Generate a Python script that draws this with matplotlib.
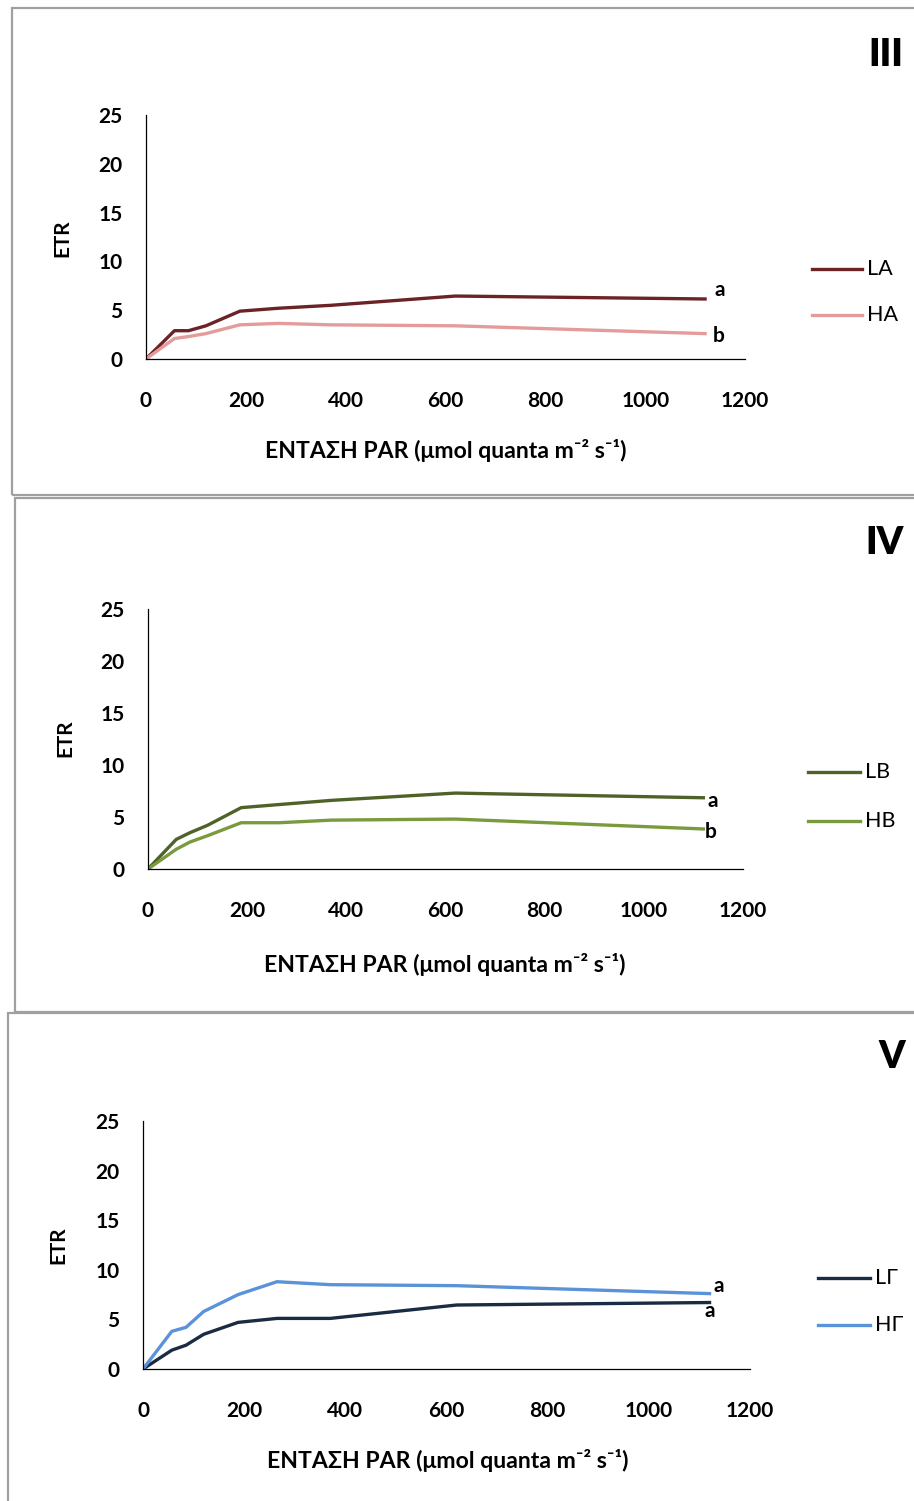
import matplotlib
matplotlib.use("Agg")
import matplotlib.pyplot as plt
from matplotlib.patches import Rectangle

# ---------------- data ----------------
par = [0, 57, 85, 120, 188, 265, 370, 620, 1120]

etr_LA = [0, 2.9, 2.9, 3.4, 4.9, 5.2, 5.5, 6.45, 6.15]
etr_HA = [0, 2.1, 2.3, 2.6, 3.5, 3.65, 3.5, 3.4, 2.6]

etr_LB = [0, 2.85, 3.5, 4.2, 5.9, 6.2, 6.6, 7.3, 6.85]
etr_HB = [0, 1.9, 2.6, 3.2, 4.45, 4.45, 4.7, 4.8, 3.85]

etr_LG = [0, 1.9, 2.4, 3.5, 4.7, 5.1, 5.1, 6.45, 6.7]
etr_HG = [0, 3.8, 4.2, 5.8, 7.5, 8.8, 8.5, 8.4, 7.6]

panel_titles = ["III", "IV", "V"]
series_names = [("LA", "HA"), ("LB", "HB"), ("LΓ", "HΓ")]
series_values = [(etr_LA, etr_HA), (etr_LB, etr_HB), (etr_LG, etr_HG)]
series_colors = [("#6b2326", "#e39c9b"), ("#4f6228", "#7a9a3e"), ("#1a2b44", "#5b93d9")]
sig_letters = [("a", "b"), ("a", "b"), ("a", "a")]

xticks = [0, 200, 400, 600, 800, 1000, 1200]
yticks = [0, 5, 10, 15, 20, 25]
xlabel = "ΕΝΤΑΣΗ PAR (μmol quanta m⁻² s⁻¹)"
ylabel = "ETR"

# ---------------- layout ----------------
W, H = 914, 1501
DPI = 100
fig = plt.figure(figsize=(W / DPI, H / DPI), dpi=DPI)
FONT = ["Lato", "Open Sans", "DejaVu Sans"]
plt.rcParams["font.family"] = FONT


def fx(px):
    return px / W


def fy(py):
    return 1 - py / H


# panel borders (left, top, bottom) in pixels
borders = [(12, 8, 495), (15, 498, 1012), (8, 1013, 1510)]
# axes boxes: left, right, top(y=25), bottom(y=0)
axes_px = [(146, 745, 115, 359), (148, 743, 609, 869), (143, 750, 1121, 1369)]
ylabel_pos = [(62, 238), (65, 738), (58, 1245)]
xlabel_pos = [(446, 451), (445, 965), (448, 1461)]
title_pos = [(886, 55), (885, 543), (892, 1057)]
legend_px = [(812, 862, 269, 315), (808, 860, 772, 821), (818, 870, 1278, 1325)]
# offsets (dx, dy-down) for the letters of (dark, light) series
letter_off = [((15, -9), (14, 2)), ((9, 3), (7, 3)), ((0, 8), (9, -8))]

for (bl, bt, bb) in borders:
    fig.patches.append(Rectangle((fx(bl), fy(bb)), fx(W + 20 - bl), fy(bt) - fy(bb),
                                 transform=fig.transFigure, fill=False,
                                 edgecolor="#a0a0a0", linewidth=1.6))

TICK_FS = 15
for i in range(3):
    l, r, t, b = axes_px[i]
    ax = fig.add_axes([fx(l), fy(b), fx(r - l), fy(t) - fy(b)])
    c1, c2 = series_colors[i]
    v1, v2 = series_values[i]
    n1, n2 = series_names[i]
    ax.plot(par, v1, color=c1, lw=2.4, solid_joinstyle="round")
    ax.plot(par, v2, color=c2, lw=2.4, solid_joinstyle="round")
    ax.set_xlim(0, 1200)
    ax.set_ylim(0, 25)
    ax.set_xticks(xticks)
    ax.set_yticks(yticks)
    ax.tick_params(length=0, labelsize=TICK_FS)
    ax.tick_params(axis="x", pad=23)
    ax.tick_params(axis="y", pad=17)
    for lab in ax.get_xticklabels() + ax.get_yticklabels():
        lab.set_fontweight("bold")
    for s in ["top", "right"]:
        ax.spines[s].set_visible(False)
    for s in ["left", "bottom"]:
        ax.spines[s].set_color("#000000")
        ax.spines[s].set_linewidth(0.9)
    ax.patch.set_alpha(0)

    # significance letters
    for vals, let, off in zip((v1, v2), sig_letters[i], letter_off[i]):
        ax.annotate(let, xy=(par[-1], vals[-1]), xytext=(off[0], -off[1]),
                    textcoords="offset pixels", ha="center", va="center",
                    fontsize=TICK_FS, fontweight="bold")

    # axis labels
    fig.text(fx(ylabel_pos[i][0]), fy(ylabel_pos[i][1]), ylabel, rotation=90,
             ha="center", va="center", fontsize=15, fontweight="bold")
    fig.text(fx(xlabel_pos[i][0]), fy(xlabel_pos[i][1]), xlabel,
             ha="center", va="center", fontsize=16.6, fontweight="bold")
    fig.text(fx(title_pos[i][0]), fy(title_pos[i][1]), panel_titles[i],
             ha="center", va="center", fontsize=27, fontweight="heavy")

    # legend
    lx0, lx1, ly1, ly2 = legend_px[i]
    for yy, col, name in ((ly1, c1, n1), (ly2, c2, n2)):
        fig.lines.append(plt.Line2D([fx(lx0), fx(lx1)], [fy(yy), fy(yy)],
                                    transform=fig.transFigure, color=col, lw=2.4))
        fig.text(fx(lx1 + 5), fy(yy), name, ha="left", va="center", fontsize=15.5)

fig.savefig("out.png", dpi=DPI, facecolor="white")
